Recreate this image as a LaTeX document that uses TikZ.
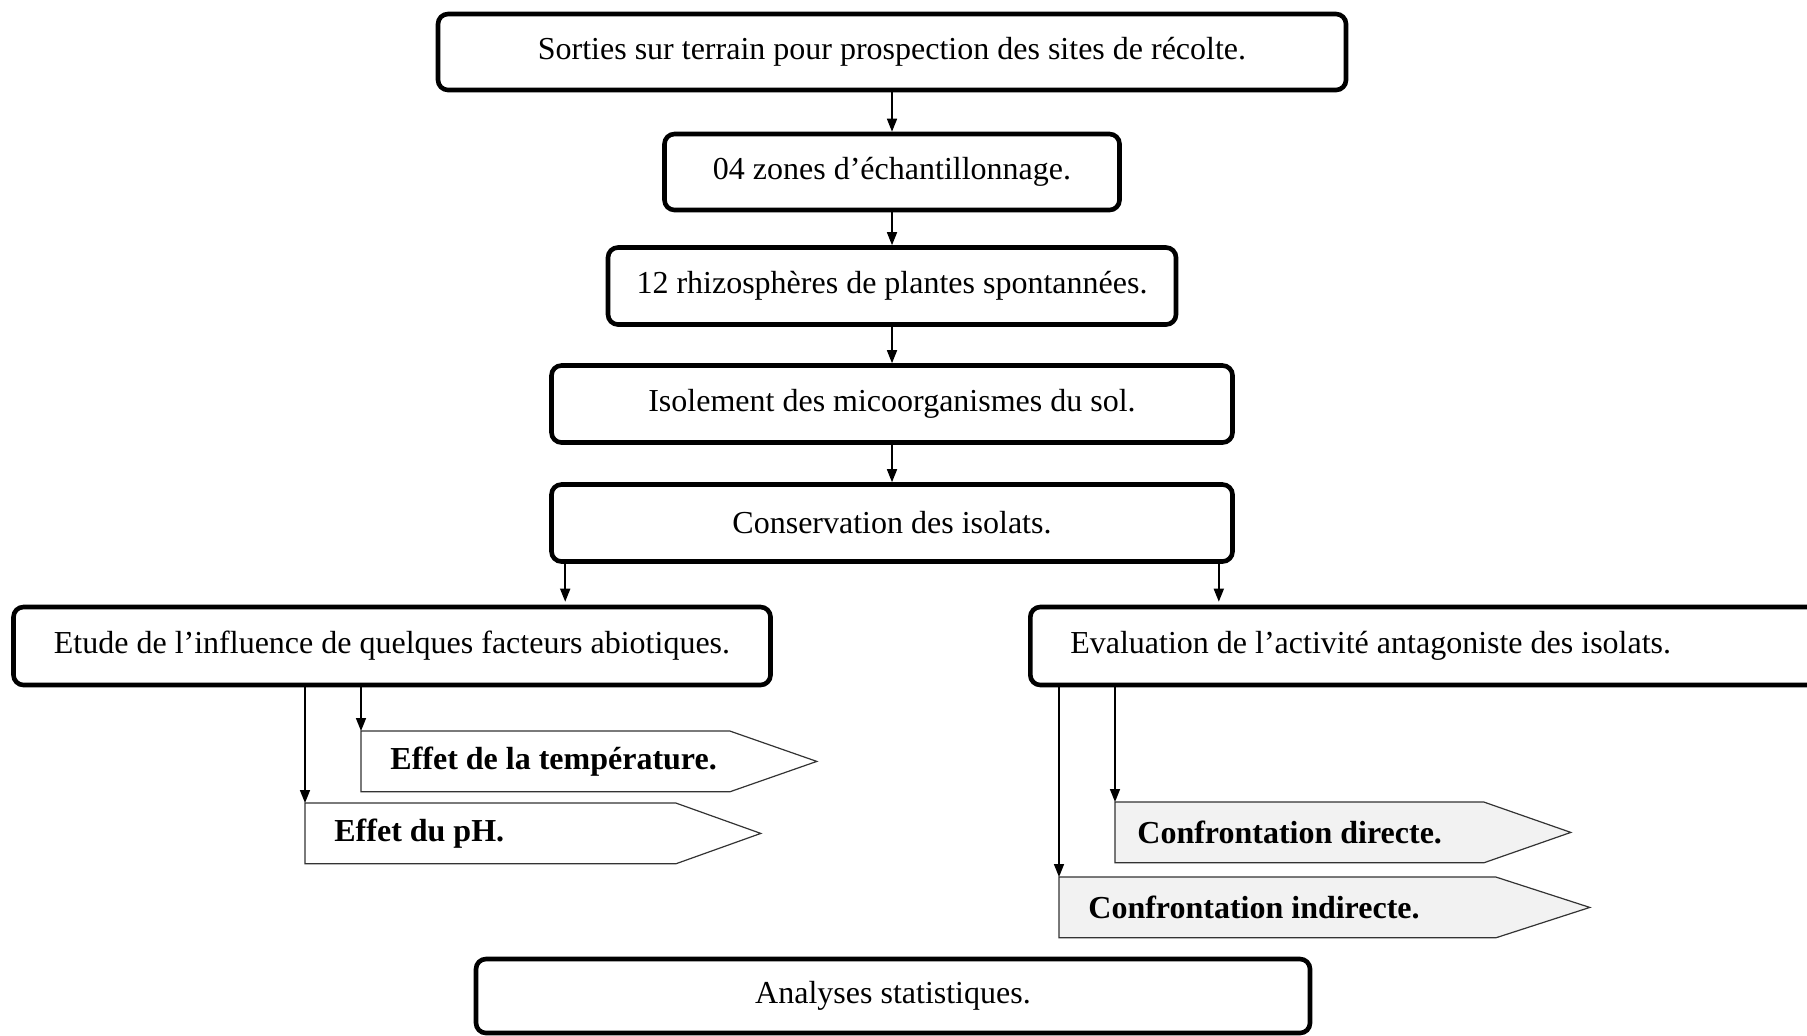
\documentclass[tikz,border=0pt]{standalone}
\usepackage{fontspec}
\setmainfont{Liberation Serif}
\usetikzlibrary{positioning,arrows.meta,backgrounds}
\definecolor{ink}{HTML}{000000}
\definecolor{tagfill}{HTML}{F2F2F2}
\definecolor{tagedge}{HTML}{333333}

\tikzset{
  stage/.style={draw=ink, line width=2.3pt, rounded corners=5pt, fill=white,
    minimum height=38.5pt, inner sep=0pt},
  tag/.style={inner xsep=0pt, inner ysep=0pt, anchor=north west, align=flush left,
    minimum height=30pt, font=\fontsize{16pt}{19pt}\selectfont\bfseries,
    execute at begin node={\hspace*{#1}}},
  tag/.default=14.5pt,
  tagline/.style={draw=tagedge, line width=0.6pt},
  arr/.style={draw=ink, line width=0.8pt, -{Triangle[length=6.5pt,width=5pt]}}
}

\begin{document}
\begin{tikzpicture}[x=0.5pt, y=-0.5pt, font=\fontsize{16pt}{19pt}\selectfont]
  \useasboundingbox (0,0) rectangle (1807,1035);

  % main chain
  \node[stage, minimum width=454pt, minimum height=38pt] (sorties) at (892,52)
    {Sorties sur terrain pour prospection des sites de récolte.};
  \node[stage, minimum width=227.5pt, minimum height=38pt] (zones) at (892,172)
    {04 zones d’échantillonnage.};
  \node[stage, minimum width=284pt] (rhizo) at (892,286)
    {12 rhizosphères de plantes spontannées.};
  \node[stage, minimum width=340.5pt] (isol) at (892,404)
    {Isolement des micoorganismes du sol.};
  \node[stage, minimum width=340.5pt] (conserv) at (892,523)
    {Conservation des isolats.};

  % two branches
  \node[stage, minimum width=378.5pt, minimum height=39pt] (etude) at (392,646)
    {Etude de l’influence de quelques facteurs abiotiques.};
  \node[stage, anchor=west, minimum height=39pt, inner xsep=0pt, text width=401pt,
    align=flush left, execute at begin node={\hspace*{20pt}}] (eval) at (1028,646)
    {Evaluation de l’activité antagoniste des isolats.};

  % tags
  \node[tag, text width=184pt] (temp) at (361,731) {Effet de la température.};
  \node[tag, text width=185pt] (ph) at (305,803) {Effet du pH.};
  \node[tag=11pt, text width=184pt] (direct) at (1115,802) {Confrontation directe.};
  \node[tag, text width=218pt] (indirect) at (1059,877) {Confrontation indirecte.};

  \begin{pgfonlayer}{background}
    \foreach \n/\tip/\col in {temp/43.5pt/white, ph/42.5pt/white,
                              direct/43.5pt/tagfill, indirect/47pt/tagfill}
      \draw[tagline, fill=\col] (\n.north west) -- (\n.north east)
        -- ([xshift=\tip]\n.east) -- (\n.south east) -- (\n.south west) -- cycle;
  \end{pgfonlayer}

  \node[stage, minimum width=417pt, minimum height=37pt] (stats) at (893,996)
    {Analyses statistiques.};

  % connectors
  \draw[arr] (sorties) -- (zones);
  \draw[arr] (zones) -- (rhizo);
  \draw[arr] (rhizo) -- (isol);
  \draw[arr] (isol) -- (conserv);
  \draw[arr, shorten >=1.5pt] ([xshift=8pt]conserv.south west)
    -- ([xshift=8pt]conserv.south west |- etude.north);
  \draw[arr, shorten >=1.5pt] ([xshift=-8pt]conserv.south east)
    -- ([xshift=-8pt]conserv.south east |- eval.north);
  \draw[arr] (temp.north west |- etude.south) -- (temp.north west);
  \draw[arr] (ph.north west |- etude.south) -- (ph.north west);
  \draw[arr] (direct.north west |- eval.south) -- (direct.north west);
  \draw[arr] (indirect.north west |- eval.south) -- (indirect.north west);
\end{tikzpicture}
\end{document}
